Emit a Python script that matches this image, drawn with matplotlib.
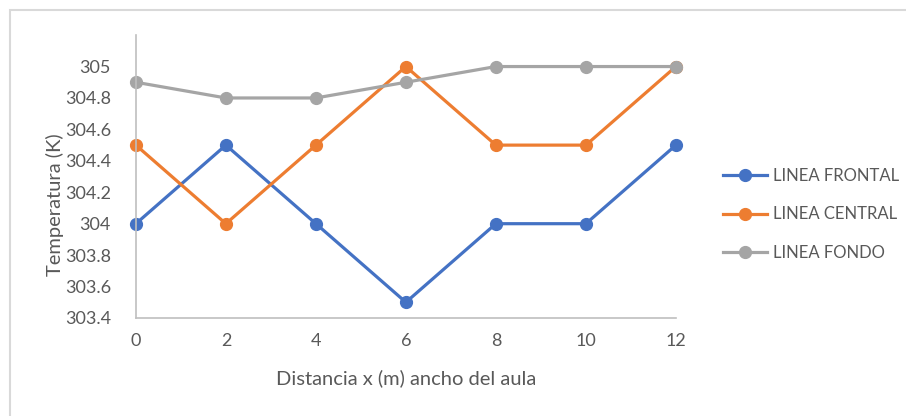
import matplotlib.pyplot as plt
from matplotlib.patches import Rectangle

# data
distancia = [0, 2, 4, 6, 8, 10, 12]
linea_frontal = [304.0, 304.5, 304.0, 303.5, 304.0, 304.0, 304.5]
linea_central = [304.5, 304.0, 304.5, 305.0, 304.5, 304.5, 305.0]
linea_fondo = [304.9, 304.8, 304.8, 304.9, 305.0, 305.0, 305.0]
y_ticks = [303.4, 303.6, 303.8, 304.0, 304.2, 304.4, 304.6, 304.8, 305.0]
y_tick_labels = ["303.4", "303.6", "303.8", "304", "304.2", "304.4", "304.6", "304.8", "305"]

plt.rcParams['font.family'] = ['Lato', 'DejaVu Sans']
text_col = '#595959'

fig = plt.figure(figsize=(9.06, 4.16), dpi=100)
# chart area border
fig.patches.append(Rectangle((10 / 906, -0.1), 1.2, 1 - 10 / 416 + 0.1,
                             transform=fig.transFigure, fill=False,
                             edgecolor='#D9D9D9', linewidth=1.5))

ax = fig.add_axes([0.150, 0.2356, 0.596, 0.680])

ax.plot(distancia, linea_frontal, color='#4472C4', lw=2.3, marker='o', ms=8.5,
        label='LINEA FRONTAL', clip_on=False)
ax.plot(distancia, linea_central, color='#ED7D31', lw=2.3, marker='o', ms=8.5,
        label='LINEA CENTRAL', clip_on=False)
ax.plot(distancia, linea_fondo, color='#A5A5A5', lw=2.3, marker='o', ms=8.5,
        label='LINEA FONDO', clip_on=False)

ax.set_xlim(0, 12)
ax.set_ylim(303.4, 305.2)
ax.set_xticks(distancia)
ax.set_yticks(y_ticks)
ax.set_yticklabels(y_tick_labels)
ax.tick_params(length=0, labelsize=13, colors=text_col)
ax.tick_params(axis='y', pad=18)
ax.tick_params(axis='x', pad=11)

for s in ['top', 'right']:
    ax.spines[s].set_visible(False)
for s in ['left', 'bottom']:
    ax.spines[s].set_color('#BFBFBF')
    ax.spines[s].set_linewidth(1.2)

ax.set_xlabel('Distancia x (m) ancho del aula', fontsize=14.5, color=text_col)
ax.set_ylabel('Temperatura (K)', fontsize=14.5, color=text_col)
ax.xaxis.set_label_coords(0.5, -0.212)
ax.yaxis.set_label_coords(-0.15, 0.40)
ax.xaxis.label.set_va('center')
ax.yaxis.label.set_va('center')

ax.legend(loc='center left', bbox_to_anchor=(1.06, 0.366), frameon=False,
          fontsize=12, labelcolor=text_col, handlelength=2.6, labelspacing=1.35,
          handletextpad=0.4)

plt.savefig('out.png', dpi=100)
